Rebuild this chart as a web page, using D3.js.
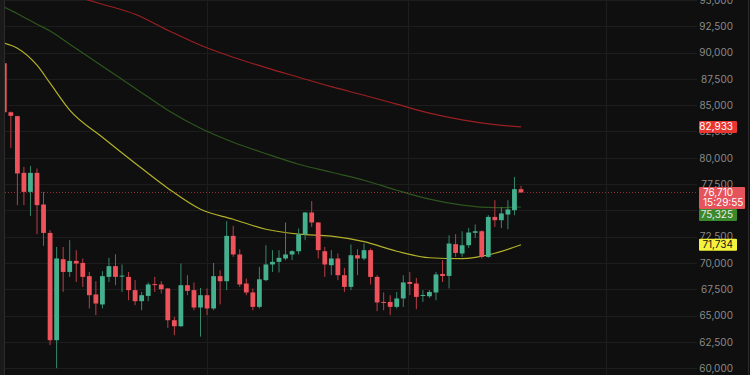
<!DOCTYPE html>
<html>
<head>
<meta charset="utf-8">
<script src="https://cdn.jsdelivr.net/npm/d3@7/dist/d3.min.js"></script>
<style>
  html, body { margin: 0; padding: 0; background: #0f0f0f; }
  svg { display: block; }
  .tick text { font-family: Inter, "Noto Sans", sans-serif; }
</style>
</head>
<body>
<svg id="chart" width="750" height="375"></svg>
<script>
// candle data (80 sessions)
const opens = [88990, 84330, 83960, 78570, 76760, 78570, 75560, 72860, 62660, 70360,
  69150, 70200, 70010, 68750, 67010, 66060, 68680, 69700, 68740, 68680,
  67420, 66370, 66870, 67990, 67960, 67580, 64560, 63990, 67890, 67420,
  65770, 66940, 65680, 68750, 68270, 72580, 70810, 68050, 67200, 65830,
  68370, 69860, 70110, 70430, 70810, 71120, 72710, 74800, 73850, 71120,
  69790, 70430, 68840, 67730, 70740, 70430, 71220, 68680, 66300, 66300,
  65830, 66630, 68200, 68050, 66900, 66840, 67200, 68960, 68770, 71790,
  70900, 71690, 72870, 73020, 70580, 74380, 74070, 74610, 75020, 77020];
const highs = [89100, 84400, 84000, 79140, 79230, 78980, 76760, 73120, 71530, 71530,
  72170, 71220, 70430, 69150, 68270, 69220, 70490, 70840, 69860, 69150,
  68370, 67250, 68150, 68680, 68270, 67620, 64880, 69950, 68840, 68150,
  67630, 67580, 70010, 69320, 73970, 73530, 71310, 68530, 67580, 69630,
  71690, 71220, 71220, 73850, 71220, 73280, 74850, 75880, 73900, 71530,
  71220, 70900, 69540, 71760, 71310, 71850, 71380, 68840, 67200, 66940,
  67250, 68840, 69150, 68580, 67420, 67420, 69150, 70270, 72640, 72740,
  73020, 73340, 73660, 73120, 74550, 75970, 75330, 75970, 78190, 77330];
const lows = [84200, 80940, 75500, 75500, 74480, 72740, 71630, 62190, 60000, 67250,
  68680, 68200, 67730, 65680, 65040, 65680, 68200, 67890, 67250, 66460,
  65990, 65510, 66370, 67250, 67100, 63830, 63140, 63930, 66940, 65510,
  63000, 65040, 65510, 66060, 67420, 70580, 67730, 66940, 65510, 65680,
  68270, 69150, 69100, 70270, 70270, 70810, 72170, 73430, 70430, 68680,
  68840, 68370, 67250, 67420, 68840, 70270, 67960, 65420, 65510, 65040,
  65680, 65830, 66940, 65610, 66300, 66680, 66460, 68200, 67580, 70580,
  70580, 71440, 72390, 70430, 70500, 73430, 73340, 73210, 74540, 76680];
const closes = [84330, 83990, 78510, 76760, 78570, 75500, 72860, 62660, 70430, 69150,
  70200, 69950, 68680, 66940, 66150, 68750, 69700, 68680, 68800, 67420,
  66370, 66940, 67960, 67930, 67510, 64560, 63990, 67890, 67350, 65770,
  66940, 65680, 68750, 68270, 72580, 70810, 67960, 67200, 65830, 68450,
  69860, 70110, 70490, 70810, 71120, 72710, 74800, 73850, 71220, 69860,
  70430, 68840, 67730, 70740, 70430, 71220, 68680, 66250, 66240, 65830,
  66630, 68150, 68010, 66780, 66960, 67250, 68910, 68770, 71850, 70960,
  71690, 72900, 73020, 70580, 74380, 74070, 74710, 75090, 77020, 76710];

// moving averages, sampled at these candle indices
const maIndex = [0, 2, 5, 7, 10, 15, 20, 25, 30, 35, 40, 45, 50, 55, 60, 65, 70, 75, 79];
const maYellow = [90890, 90420, 88800, 87090, 84530, 81960, 79490, 77110, 75110, 74160,
  73210, 72740, 72550, 72030, 71120, 70500, 70410, 70930, 71734];
const maGreen = [94320, 93700, 92700, 92050, 90800, 88700, 86620, 84530, 82810, 81480,
  80390, 79390, 78630, 77870, 76920, 76070, 75500, 75260, 75325];
const maRed = [97350, 97000, 96400, 96050, 95500, 94600, 93650, 92130, 90700, 89560,
  88570, 87660, 86760, 85950, 85100, 84240, 83600, 83150, 82933];

// axis ticks and vertical grid positions (in candle index units)
const yTicks = [60000, 62500, 65000, 67500, 70000, 72500, 75000, 77500, 80000,
  82500, 85000, 87500, 90000, 92500, 95000];
const gridIdx = [31, 61.7, 92];

const lastPrice = 76710;
const lastTime = '15:29:55';

var width = 750, height = 375;
var plotLeft = 5, plotRight = 697;
var font = 'Inter, "Noto Sans", sans-serif';

var candles = opens.map((o, i) => ({ i, o, h: highs[i], l: lows[i], c: closes[i] }));

var x = d3.scaleLinear().domain([0, 79]).range([4.3, 521]);
var y = d3.scaleLinear().domain([60000, 95000]).range([368.2, 0]);

var svg = d3.select('#chart');

svg.append('rect')
  .attr('width', width).attr('height', height)
  .attr('fill', '#0f0f0f');

svg.append('defs').append('clipPath').attr('id', 'plot')
  .append('rect')
  .attr('x', plotLeft).attr('y', 0)
  .attr('width', plotRight - plotLeft).attr('height', height);

// gridlines
var grid = svg.append('g').attr('class', 'grid');
grid.selectAll('.hline')
  .data(yTicks).enter()
  .append('line')
  .attr('x1', plotLeft).attr('x2', plotRight)
  .attr('y1', d => Math.round(y(d)) + 0.5).attr('y2', d => Math.round(y(d)) + 0.5)
  .attr('stroke', '#1d1d1d');
grid.selectAll('.vline')
  .data(gridIdx).enter()
  .append('line')
  .attr('x1', d => Math.round(x(d)) + 0.5).attr('x2', d => Math.round(x(d)) + 0.5)
  .attr('y1', 0).attr('y2', height)
  .attr('stroke', '#1d1d1d');

// edges
svg.append('rect').attr('x', 0).attr('y', 0).attr('width', 4).attr('height', height).attr('fill', '#1a1a1a');
svg.append('line').attr('x1', 4.5).attr('x2', 4.5).attr('y1', 0).attr('y2', height).attr('stroke', '#2c2c2c');
svg.append('line').attr('x1', 748.5).attr('x2', 748.5).attr('y1', 0).attr('y2', height).attr('stroke', '#2a2a2a');

var plot = svg.append('g').attr('clip-path', 'url(#plot)');

// moving average lines
var maLine = d3.line()
  .x((d, k) => x(maIndex[k]))
  .y(d => y(d))
  .curve(d3.curveMonotoneX);

[[maRed, '#9c1f22'], [maGreen, '#2d561e'], [maYellow, '#b3b02a']].forEach(([vals, col]) => {
  plot.append('path')
    .attr('d', maLine(vals))
    .attr('fill', 'none')
    .attr('stroke', col)
    .attr('stroke-width', 1.2);
});

// last price dotted line
plot.append('line')
  .attr('x1', plotLeft).attr('x2', plotRight)
  .attr('y1', Math.round(y(lastPrice)) + 0.5).attr('y2', Math.round(y(lastPrice)) + 0.5)
  .attr('stroke', '#d9454f')
  .attr('stroke-opacity', 0.6)
  .attr('stroke-dasharray', '1,2');

// candles
var up = '#45b08e', down = '#ee525b';
var upWick = '#36876c', downWick = '#b83e46';
var bodyW = 4.8;

var cg = plot.selectAll('.candle')
  .data(candles).enter()
  .append('g')
  .attr('class', 'candle');

cg.append('line')
  .attr('x1', d => x(d.i)).attr('x2', d => x(d.i))
  .attr('y1', d => y(d.h)).attr('y2', d => y(d.l))
  .attr('stroke', d => d.c >= d.o ? upWick : downWick)
  .attr('stroke-width', 1);

cg.append('rect')
  .attr('x', d => x(d.i) - bodyW / 2)
  .attr('y', d => y(Math.max(d.o, d.c)))
  .attr('width', bodyW)
  .attr('height', d => Math.max(1, Math.abs(y(d.o) - y(d.c))))
  .attr('fill', d => d.c >= d.o ? up : down);

// price axis
var yAxis = d3.axisLeft(y)
  .tickValues(yTicks)
  .tickSize(0)
  .tickPadding(0)
  .tickFormat(d3.format(','));

var ax = svg.append('g')
  .attr('transform', 'translate(733,0)')
  .call(yAxis);
ax.select('.domain').remove();
ax.selectAll('text')
  .attr('fill', '#8a8a8a')
  .style('font-size', '10px');

// last price + countdown box
var ly = y(lastPrice);
var lastTop = ly - 5.5, lastBottom = ly + 16.5;
var lg = svg.append('g');
lg.append('rect')
  .attr('x', 699).attr('y', lastTop)
  .attr('width', 46).attr('height', lastBottom - lastTop)
  .attr('rx', 1)
  .attr('fill', '#e5535b');
lg.append('text')
  .attr('x', 703).attr('y', ly).attr('dy', '0.35em')
  .attr('fill', '#ffffff')
  .style('font-family', font)
  .style('font-size', '10px')
  .text(d3.format(',')(lastPrice));
lg.append('text')
  .attr('x', 703).attr('y', ly + 10.5).attr('dy', '0.35em')
  .attr('fill', '#ffffff')
  .style('font-family', font)
  .style('font-size', '10px')
  .text(lastTime);

// moving average tags on the axis, pushed clear of the last price box
function tag(value, bg, fg) {
  var yy = y(value);
  if (yy + 6 > lastTop && yy - 6 < lastBottom) yy = lastBottom + 6;
  var g = svg.append('g');
  g.append('rect')
    .attr('x', 699).attr('y', yy - 6)
    .attr('width', 38).attr('height', 12)
    .attr('rx', 1)
    .attr('fill', bg);
  g.append('text')
    .attr('x', 733).attr('y', yy)
    .attr('dy', '0.35em')
    .attr('text-anchor', 'end')
    .attr('fill', fg)
    .style('font-family', font)
    .style('font-size', '10px')
    .text(d3.format(',')(value));
}

tag(maRed[maRed.length - 1], '#e8352f', '#ffffff');
tag(maGreen[maGreen.length - 1], '#3a8a2c', '#e8e8e8');
tag(maYellow[maYellow.length - 1], '#f4f33c', '#111111');
</script>
</body>
</html>
